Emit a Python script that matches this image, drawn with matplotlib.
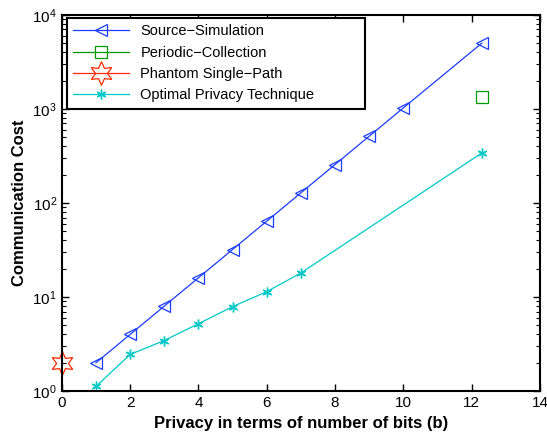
import matplotlib
matplotlib.use("Agg")
import matplotlib.pyplot as plt
import numpy as np

plt.rcParams['font.family'] = ['Liberation Sans', 'DejaVu Sans']

# data
src_x = [1, 2, 3, 4, 5, 6, 7, 8, 9, 10, 12.3]
src_y = [2, 4, 8, 16, 32, 64, 128, 256, 512, 1024, 5000]
per_x = [12.3]
per_y = [1350]
ph_x = [0]
ph_y = [2]
opt_x = [1, 2, 3, 4, 5, 6, 7, 12.3]
opt_y = [1.12, 2.45, 3.45, 5.2, 7.9, 11.4, 18, 340]

fig = plt.figure(figsize=(5.47, 4.36), dpi=100)
ax = fig.add_axes([0.113, 0.103, 0.874, 0.863])

ax.plot(src_x, src_y, color='#1a3cff', lw=0.9, marker='<', ms=9, mfc='none',
        mew=0.9, label='Source\u2212Simulation')
ax.plot(per_x, per_y, color='#009a00', lw=0.9, marker='s', ms=9, mfc='none',
        mew=0.9, label='Periodic\u2212Collection')
ax.plot(ph_x, ph_y, color='#ff2a00', lw=0.9, marker=(6, 1, 0), ms=17, mfc='none',
        mew=0.9, label='Phantom Single\u2212Path', clip_on=False)
ax.plot(opt_x, opt_y, color='#00c8c8', lw=0.9, marker=(6, 2, 0), ms=7,
        mew=1.0, label='Optimal Privacy Technique')

ax.set_yscale('log')
ax.set_xlim(0, 14)
ax.set_ylim(1, 1e4)
ax.set_xticks(np.arange(0, 15, 2))
ax.tick_params(which='both', direction='in', top=True, right=True, labelsize=11)
ax.tick_params(which='major', length=5, width=1)
ax.tick_params(which='minor', length=3, width=0.8)
for s in ax.spines.values():
    s.set_linewidth(1.5)

ax.set_xlabel('Privacy in terms of number of bits (b)', fontsize=12, fontweight='bold')
ax.set_ylabel('Communication Cost', fontsize=12, fontweight='bold')

leg = ax.legend(loc='upper left', bbox_to_anchor=(0.0105, 0.992, 0.623, 0), mode='expand',
                borderaxespad=0, fontsize=10.5, fancybox=False, framealpha=1,
                edgecolor='black', handlelength=3.8, borderpad=0.45,
                labelspacing=0.5)
leg.get_frame().set_linewidth(1.5)

fig.savefig('out.png', dpi=100)
